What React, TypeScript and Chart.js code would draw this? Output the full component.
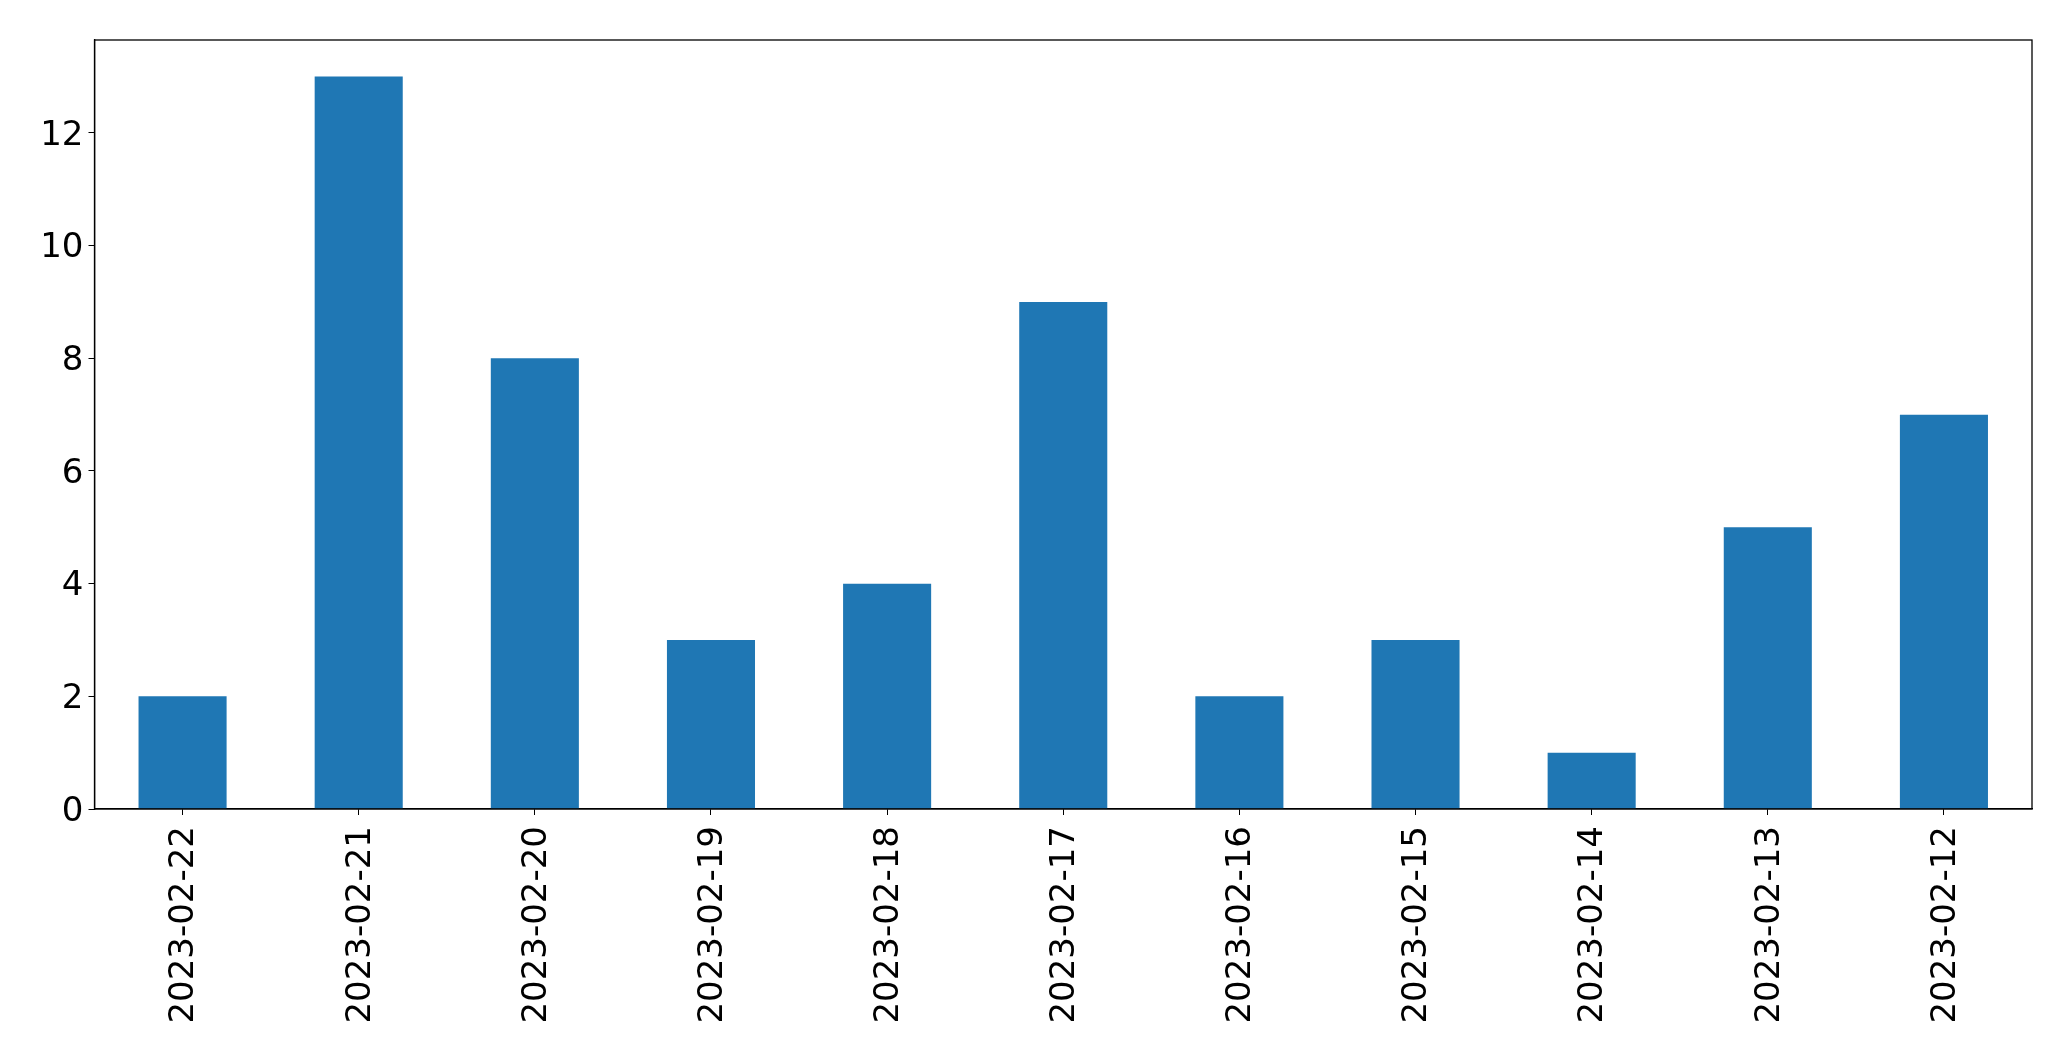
import React, { useEffect, useRef } from "react";
import { Chart, registerables } from "chart.js";

Chart.register(...registerables);

const categories = [
  "2023-02-22", "2023-02-21", "2023-02-20", "2023-02-19", "2023-02-18", "2023-02-17",
  "2023-02-16", "2023-02-15", "2023-02-14", "2023-02-13", "2023-02-12",
];
const counts = [2, 13, 8, 3, 4, 9, 2, 3, 1, 5, 7];
const yTicks = [0, 2, 4, 6, 8, 10, 12];
const yMax = 13.65;

const W = 2071;
const H = 1061;
const FONT = "'DejaVu Sans', sans-serif";

const frame = {
  id: "frame",
  afterDraw(chart: any) {
    const { ctx, chartArea } = chart;
    ctx.save();
    ctx.strokeStyle = "#000";
    ctx.lineWidth = 1.3;
    ctx.strokeRect(chartArea.left, chartArea.top, chartArea.right - chartArea.left, chartArea.bottom - chartArea.top);
    ctx.restore();
  },
};

export default function App() {
  const ref = useRef<HTMLCanvasElement | null>(null);
  useEffect(() => {
    document.body.style.margin = "0";
    const chart = new Chart(ref.current as HTMLCanvasElement, {
      type: "bar",
      data: {
        labels: categories,
        datasets: [
          {
            data: counts,
            backgroundColor: "#1f77b4",
            categoryPercentage: 1,
            barPercentage: 0.5,
          },
        ],
      },
      options: {
        animation: false,
        responsive: false,
        maintainAspectRatio: false,
        layout: { padding: { left: 0, top: 40, right: 39, bottom: 0 } },
        plugins: { legend: { display: false }, tooltip: { enabled: false } },
        scales: {
          x: {
            grid: { display: true, offset: false, drawOnChartArea: false, tickLength: 6, tickColor: "#000", color: "#000" },
            border: { color: "#000", width: 1.3 },
            ticks: {
              color: "#000",
              font: { family: FONT, size: 34 },
              minRotation: 90,
              maxRotation: 90,
              padding: 11,
              labelOffset: 2,
              autoSkip: false,
            },
            afterFit: (s: any) => {
              s.height = H - 809;
            },
          },
          y: {
            min: 0,
            max: yMax,
            grid: { display: true, drawOnChartArea: false, tickLength: 6, tickColor: "#000", color: "#000" },
            border: { color: "#000", width: 1.3 },
            ticks: {
              color: "#000",
              font: { family: FONT, size: 34 },
              padding: 5,
              labelOffset: 3,
            },
            afterBuildTicks: (s: any) => {
              s.ticks = yTicks.map((v) => ({ value: v }));
            },
            afterFit: (s: any) => {
              s.width = 94.5;
            },
          },
        },
      },
      plugins: [frame],
    });
    return () => chart.destroy();
  }, []);
  return (
    <div style={{ position: "absolute", left: 0, top: 0, width: W, height: H, background: "#fff" }}>
      <canvas ref={ref} width={W} height={H} style={{ width: W, height: H, display: "block" }} />
    </div>
  );
}
